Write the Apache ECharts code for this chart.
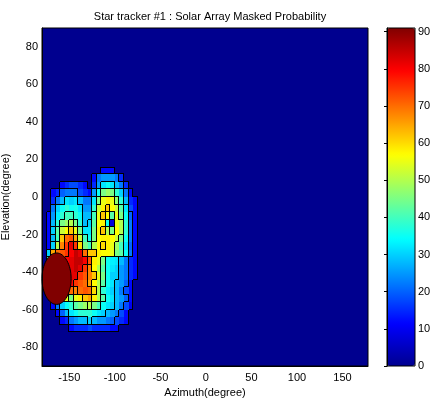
<!DOCTYPE html>
<html><head><meta charset="utf-8">
<script src="https://cdn.jsdelivr.net/npm/echarts@6/dist/echarts.min.js"></script>
<style>html,body{margin:0;padding:0;background:#fff}#c{width:432px;height:403px}</style>
</head><body><div id="c"></div>
<script>
// Cell centres (degrees)
const azimuth = [-177.5,-172.5,-167.5,-162.5,-157.5,-152.5,-147.5,-142.5,-137.5,-132.5,-127.5,-122.5,-117.5,-112.5,-107.5,-102.5,-97.5,-92.5,-87.5,-82.5,-77.5];
const elevation = [14,10,6,2,-2,-6,-10,-14,-18,-22,-26,-30,-34,-38,-42,-46,-50,-54,-58,-62,-66,-70];
// Masked probability (%), one row per elevation
const probability = [
  [0,0,0,0,0,0,0,0,0,0, 0,0,0,12,12,12,0,0,0,0, 0],
  [0,0,0,0,0,0,0,0,0,0, 0,12,22,25,25,25,22,15,0,0, 0],
  [0,0,0,0,12,15,18,18,15,12, 0,15,25,32,35,32,28,22,15,0, 0],
  [0,0,12,15,20,22,22,22,18,15, 12,25,35,45,48,45,38,30,22,12, 0],
  [0,0,15,22,28,32,30,32,28,22, 22,32,45,55,58,55,47,38,28,15, 12],
  [0,0,22,30,35,38,35,36,32,25, 25,38,52,58,62,57,52,42,32,18, 12],
  [0,12,25,33,38,40,40,38,35,28, 28,40,55,62,57,42,55,45,35,20, 12],
  [0,12,28,38,45,48,50,45,38,28, 30,42,57,58,35,8,55,50,38,22, 12],
  [0,12,30,42,52,57,62,55,45,32, 32,45,58,62,50,45,57,50,38,22, 12],
  [0,12,28,40,62,70,72,65,52,40, 35,45,57,58,58,57,52,45,35,22, 12],
  [0,12,30,50,68,75,82,75,60,45, 40,50,57,60,58,55,48,40,32,20, 12],
  [0,30,65,70,72,75,80,85,82,70, 62,62,58,57,57,55,45,42,35,22, 12],
  [0,40,70,75,78,80,82,85,85,80, 72,58,55,45,35,33,32,28,22,15, 12],
  [0,40,70,75,78,80,82,85,82,75, 68,57,50,42,35,32,30,25,22,15, 12],
  [0,40,70,75,78,80,82,82,75,72, 68,62,55,45,35,30,30,25,22,15, 12],
  [0,40,70,75,78,80,80,75,72,70, 65,57,50,42,35,32,28,25,20,12, 0],
  [0,30,65,70,72,72,70,68,70,72, 70,60,50,38,33,30,28,22,18,12, 0],
  [0,0,40,50,55,55,45,55,58,62, 65,58,50,42,35,32,28,25,20,12, 0],
  [0,0,12,22,30,35,38,42,45,48, 50,45,40,35,32,30,28,22,18,10, 0],
  [0,0,0,12,20,28,32,35,38,38, 38,35,32,30,28,25,22,18,12,0, 0],
  [0,0,0,0,12,15,22,25,28,28, 30,28,25,25,22,20,18,15,12,0, 0],
  [0,0,0,0,0,0,12,15,15,15, 18,15,15,15,15,12,12,0,0,0, 0]
];
// Saturated sun-disk region: centre az, centre el, half-width az, half-height el (degrees)
const sunDisk = [[-164, -43.5, 16, 13.7]];
const xTicks = [-150,-100,-50,0,50,100,150];
const yTicks = [-80,-60,-40,-20,0,20,40,60,80];
const cbTicks = [0,10,20,30,40,50,60,70,80,90];

const FONT = 'Liberation Sans, Arial, sans-serif';
const jet = ['#00008F','#0000FF','#0080FF','#00FFFF','#80FF80','#FFFF00','#FF8000','#FF0000','#800000'];
const cellW = azimuth[1] - azimuth[0];
const cellH = elevation[0] - elevation[1];
const nR = elevation.length, nC = azimuth.length;
const cells = [];
probability.forEach((row, r) => row.forEach((v, c) => cells.push([azimuth[c], elevation[r], v, r, c])));
const band = v => Math.floor(v / 10);

function renderCell(params, api) {
  const az = api.value(0), el = api.value(1), v = api.value(2), r = api.value(3), c = api.value(4);
  const p1 = api.coord([az - cellW / 2, el + cellH / 2]);
  const p2 = api.coord([az + cellW / 2, el - cellH / 2]);
  const x1 = Math.round(p1[0]), y1 = Math.round(p1[1]), x2 = Math.round(p2[0]), y2 = Math.round(p2[1]);
  const kids = [];
  const ls = {stroke: '#000', lineWidth: 1};
  if (v > 0) kids.push({type: 'rect', shape: {x: x1, y: y1, width: x2 - x1, height: y2 - y1}, style: {fill: api.visual('color')}, z2: 0});
  const b = band(v);
  const rn = c + 1 < nC ? band(probability[r][c + 1]) : 0;
  const bn = r + 1 < nR ? band(probability[r + 1][c]) : 0;
  if (rn !== b) kids.push({type: 'line', shape: {x1: x2 - 0.5, y1: y1, x2: x2 - 0.5, y2: y2}, style: ls, z2: 5});
  if (bn !== b) kids.push({type: 'line', shape: {x1: x1, y1: y2 - 0.5, x2: x2, y2: y2 - 0.5}, style: ls, z2: 5});
  if (r === 0 && b > 0) kids.push({type: 'line', shape: {x1: x1, y1: y1 + 0.5, x2: x2, y2: y1 + 0.5}, style: ls, z2: 5});
  if (c === 0 && b > 0) kids.push({type: 'line', shape: {x1: x1 + 0.5, y1: y1, x2: x1 + 0.5, y2: y2}, style: ls, z2: 5});
  return {type: 'group', children: kids};
}
function renderDisk(params, api) {
  const ctr = api.coord([api.value(0), api.value(1)]);
  const sz = api.size([api.value(2), api.value(3)]);
  return {type: 'ellipse', shape: {cx: ctr[0], cy: ctr[1], rx: sz[0], ry: sz[1]}, style: {fill: '#800000', stroke: '#000', lineWidth: 1}, z2: 10};
}

const txt = {color: '#000', fontSize: 11, fontFamily: FONT};
const chart = echarts.init(document.getElementById('c'), null, {renderer: 'canvas'});
chart.setOption({
  animation: false,
  title: {text: 'Star tracker #1 : Solar Array Masked Probability', left: 205, top: 6, textAlign: 'center',
    textStyle: {fontSize: 11, fontWeight: 'normal', color: '#000', fontFamily: FONT}},
  grid: [
    {left: 42, top: 28, width: 326, height: 338, show: true, backgroundColor: '#00008F', borderColor: '#000', borderWidth: 1,
      containLabel: false, outerBoundsMode: 'none'},
    {left: 387, top: 28, width: 28, height: 338, show: true, backgroundColor: 'transparent', borderColor: '#000', borderWidth: 1, z: 10,
      containLabel: false, outerBoundsMode: 'none'}
  ],
  xAxis: [
    {gridIndex: 0, type: 'value', min: -180, max: 178, z: 10,
      axisLine: {show: true, onZero: false, lineStyle: {color: '#000'}}, axisTick: {show: false}, splitLine: {show: false},
      axisLabel: Object.assign({customValues: xTicks, margin: 6}, txt),
      name: 'Azimuth(degree)', nameLocation: 'middle', nameGap: 21, nameTextStyle: txt},
    {gridIndex: 1, type: 'value', min: 0, max: 1, show: false}
  ],
  yAxis: [
    {gridIndex: 0, type: 'value', min: -90, max: 90, z: 10,
      axisLine: {show: true, onZero: false, lineStyle: {color: '#000'}}, axisTick: {show: false}, splitLine: {show: false},
      axisLabel: Object.assign({customValues: yTicks, margin: 4}, txt),
      name: 'Elevation(degree)', nameLocation: 'middle', nameGap: 24, nameRotate: 90, nameTextStyle: txt},
    {gridIndex: 1, type: 'value', min: 0, max: 91, position: 'right', z: 11,
      axisLine: {show: true, lineStyle: {color: '#000'}},
      axisTick: {show: true, inside: true, length: 3, customValues: cbTicks, lineStyle: {color: '#000'}},
      splitLine: {show: false},
      axisLabel: Object.assign({customValues: cbTicks, margin: 3}, txt)}
  ],
  visualMap: {type: 'continuous', seriesIndex: 0, dimension: 2, min: 0, max: 91,
    left: 387, top: 28, itemWidth: 28, itemHeight: 338, padding: 0, calculable: false, hoverLink: false,
    inRange: {color: jet}},
  series: [
    {type: 'custom', xAxisIndex: 0, yAxisIndex: 0, renderItem: renderCell, encode: {x: 0, y: 1}, data: cells, z: 2},
    {type: 'custom', xAxisIndex: 0, yAxisIndex: 0, renderItem: renderDisk, encode: {x: 0, y: 1}, data: sunDisk, z: 3}
  ]
});
</script></body></html>
